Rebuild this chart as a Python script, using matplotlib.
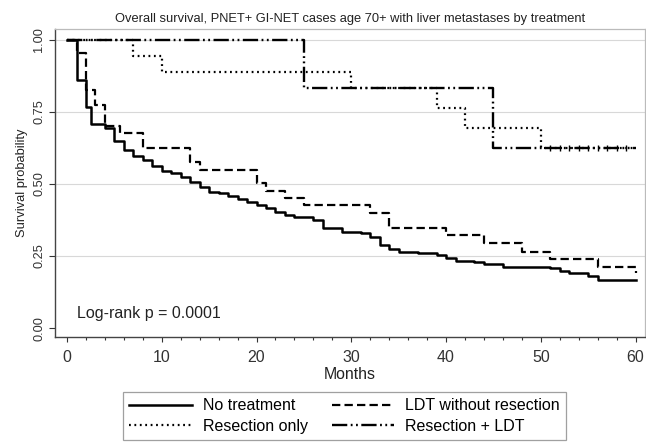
import matplotlib
matplotlib.use("Agg")
import matplotlib.pyplot as plt

plt.rcParams['font.family'] = ['Liberation Sans', 'DejaVu Sans']
plt.rcParams['lines.scale_dashes'] = False

# Kaplan-Meier step estimates (time in months, survival after the drop)
no_tx_t = [0, 1, 2, 2.5, 4, 5, 6, 7, 8, 9, 10, 11, 12, 13, 14, 15, 16, 17, 18,
           19, 20, 21, 22, 23, 24, 26, 27, 29, 31, 32, 33, 34, 35, 37, 39, 40,
           41, 43, 44, 46, 51, 52, 53, 55, 56, 60]
no_tx_s = [1.0, 0.861, 0.767, 0.71, 0.694, 0.649, 0.618, 0.597, 0.583, 0.563,
           0.545, 0.538, 0.524, 0.507, 0.49, 0.472, 0.469, 0.458, 0.448, 0.438,
           0.427, 0.417, 0.403, 0.392, 0.385, 0.375, 0.347, 0.333, 0.33, 0.316,
           0.288, 0.274, 0.264, 0.26, 0.253, 0.243, 0.233, 0.229, 0.222, 0.212,
           0.208, 0.198, 0.191, 0.181, 0.167, 0.167]

ldt_t = [0, 1, 2, 3, 4, 5.6, 8, 13, 14, 20, 21, 23, 25, 32, 34, 40, 44, 48,
         51, 56, 60]
ldt_s = [1.0, 0.955, 0.826, 0.774, 0.70, 0.677, 0.625, 0.576, 0.549, 0.503,
         0.476, 0.451, 0.427, 0.399, 0.347, 0.323, 0.295, 0.264, 0.24, 0.212,
         0.19]

res_t = [0, 7, 10, 30, 39, 42, 50, 60]
res_s = [1.0, 0.944, 0.889, 0.833, 0.764, 0.694, 0.625, 0.625]
res_censor = [51, 52, 53, 54, 55, 56, 57, 58, 59]

res_ldt_t = [0, 25, 45, 60]
res_ldt_s = [1.0, 0.833, 0.625, 0.625]

labels = ["No treatment", "LDT without resection", "Resection only",
          "Resection + LDT"]

fig = plt.figure(figsize=(6.46, 4.42), dpi=100)
ax = fig.add_axes([55 / 646, 105 / 442, 590 / 646, 308 / 442])

ax.set_xlim(-1.27, 61.0)
ax.set_ylim(-0.031, 1.038)

for yv in [0.25, 0.5, 0.75, 1.0]:
    ax.axhline(yv, color='#d8d8d8', lw=0.8, zorder=0)

h1, = ax.step(no_tx_t, no_tx_s, where='post', color='black', lw=1.8,
              linestyle='-')
h2, = ax.step(ldt_t, ldt_s, where='post', color='black', lw=1.6,
              linestyle=(0, (6, 3)))
h3, = ax.step(res_t, res_s, where='post', color='black', lw=1.6,
              linestyle=(0, (1.3, 2.6)))
h4, = ax.step(res_ldt_t, res_ldt_s, where='post', color='black', lw=1.7,
              linestyle=(0, (11, 2.5, 1.3, 2.5, 1.3, 2.5)))
ax.plot(res_censor, [res_s[-1]] * len(res_censor), linestyle='none',
        marker='|', ms=4, mew=1.0, color='black')

ax.text(1.1, 0.035, "Log-rank p = 0.0001", fontsize=11.5, color='#222222')

ax.set_xticks(range(0, 61, 10))
ax.set_xticks(range(0, 61, 2), minor=True)
ax.set_yticks([0, 0.25, 0.5, 0.75, 1.0])
ax.set_yticklabels(["0.00", "0.25", "0.50", "0.75", "1.00"], rotation=90,
                   va='center', fontsize=9.2)
ax.tick_params(axis='x', which='major', labelsize=11.5, length=3.7, width=0.8,
               pad=6, colors='#333333')
ax.tick_params(axis='x', which='minor', length=2, width=0.8, colors='#333333')
ax.tick_params(axis='y', length=4, width=0.8, pad=3, colors='#333333')

for side in ['top', 'right']:
    ax.spines[side].set_color('#bbbbbb')
    ax.spines[side].set_linewidth(0.9)
for side in ['left', 'bottom']:
    ax.spines[side].set_color('#444444')
    ax.spines[side].set_linewidth(1.0)

ax.set_xlabel("Months", fontsize=11.4, labelpad=1, color='#222222')
ax.set_ylabel("Survival probability", fontsize=9.3, labelpad=4, color='#222222')
ax.set_title("Overall survival, PNET+ GI-NET cases age 70+ with liver "
             "metastases by treatment", fontsize=9.3, pad=5, color='#222222')

# matplotlib fills legend columns first, so order handles column-wise
leg = fig.legend([h1, h3, h2, h4], [labels[0], labels[2], labels[1], labels[3]],
                 ncol=2, loc='upper left',
                 bbox_to_anchor=(123 / 646, 1 - 392 / 442), fontsize=11.5,
                 frameon=True, fancybox=False, handlelength=3.9,
                 handletextpad=0.7, columnspacing=1.5, labelspacing=0.35,
                 borderpad=0.4, borderaxespad=0)
leg.get_frame().set_edgecolor('#888888')
leg.get_frame().set_linewidth(0.9)

fig.savefig("out.png", dpi=100)
